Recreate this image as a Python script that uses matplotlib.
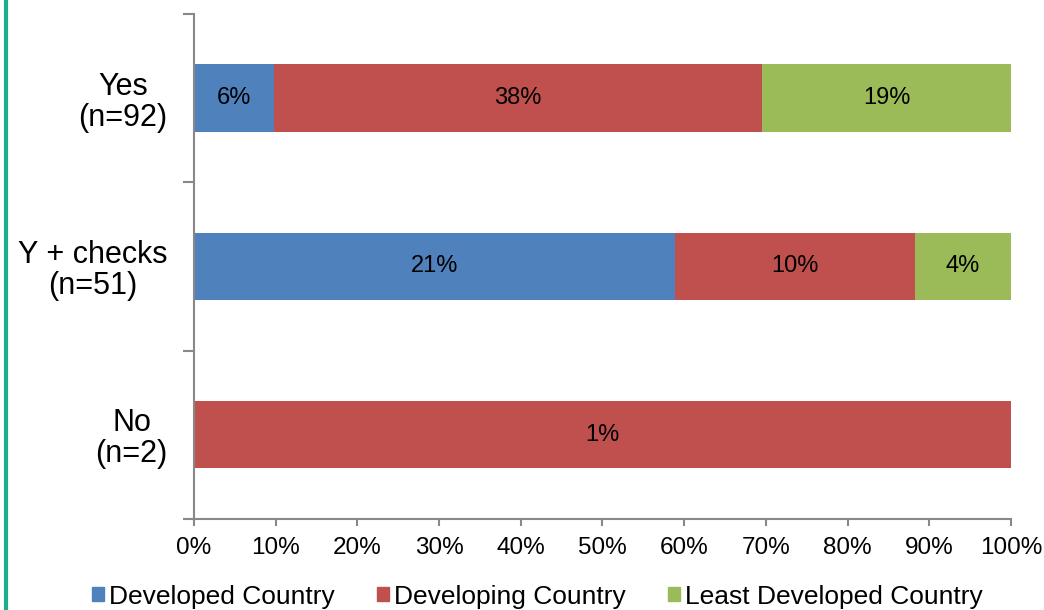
import matplotlib.pyplot as plt
from matplotlib.patches import Rectangle

plt.rcParams['font.family'] = ['Liberation Sans', 'DejaVu Sans']

# answers, bottom to top
categories = ['No\n(n=2)', 'Y + checks\n(n=51)', 'Yes\n(n=92)']
series = ['Developed Country', 'Developing Country', 'Least Developed Country']
colors = ['#4F81BD', '#C0504D', '#9BBB59']

# number of respondents per answer and country group
developed = [0, 30, 9]
developing = [2, 15, 55]
least = [0, 6, 28]
counts = [developed, developing, least]

total = sum(sum(c) for c in counts)
row_tot = [developed[i] + developing[i] + least[i] for i in range(len(categories))]

fig = plt.figure(figsize=(10.44, 6.1), dpi=100)
ax = fig.add_axes([0.1858, 0.1492, 0.7826, 0.8279])

y = list(range(len(categories)))
left = [0.0] * len(categories)
for name, vals, col in zip(series, counts, colors):
    share = [vals[i] / row_tot[i] for i in y]
    ax.barh(y, share, left=left, height=0.4, color=col, label=name)
    for i in y:
        if vals[i] > 0:
            pct = round(vals[i] / total * 100)
            ax.text(left[i] + share[i] / 2, i, f'{pct}%', ha='center', va='center',
                    fontsize=17, color='black')
    left = [left[i] + share[i] for i in y]

ax.set_xlim(0, 1)
ax.set_ylim(-0.5, len(categories) - 0.5)

ax.set_xticks([i / 10 for i in range(11)])
ax.set_xticklabels([f'{i * 10}%' for i in range(11)], fontsize=17.5)
ax.tick_params(axis='x', length=5, width=1.5, color='#888888', pad=8)

# category labels at bar centres, tick marks between the bands
ax.set_yticks(y)
ax.set_yticklabels(categories, fontsize=22, multialignment='center', linespacing=1.05)
ax.tick_params(axis='y', which='major', length=0, pad=19)
ax.set_yticks([i - 0.5 for i in range(len(categories) + 1)], minor=True)
ax.tick_params(axis='y', which='minor', length=8, width=1.5, color='#888888')

for s in ['top', 'right']:
    ax.spines[s].set_visible(False)
for s in ['left', 'bottom']:
    ax.spines[s].set_color('#888888')
    ax.spines[s].set_linewidth(1.5)

handles = [Rectangle((0, 0), 1, 1, color=c) for c in colors]
fig.legend(handles, series, loc='center', bbox_to_anchor=(0.515, 0.022),
           ncol=3, frameon=False, fontsize=19, handlelength=0.45, handleheight=0.45,
           handletextpad=0.2, columnspacing=1.6, borderpad=0)

# teal rule down the left edge
fig.add_artist(plt.Line2D([0.0058, 0.0058], [0, 1], color='#1AAE8F', linewidth=3,
                          transform=fig.transFigure))

fig.savefig('out.png', dpi=100)
